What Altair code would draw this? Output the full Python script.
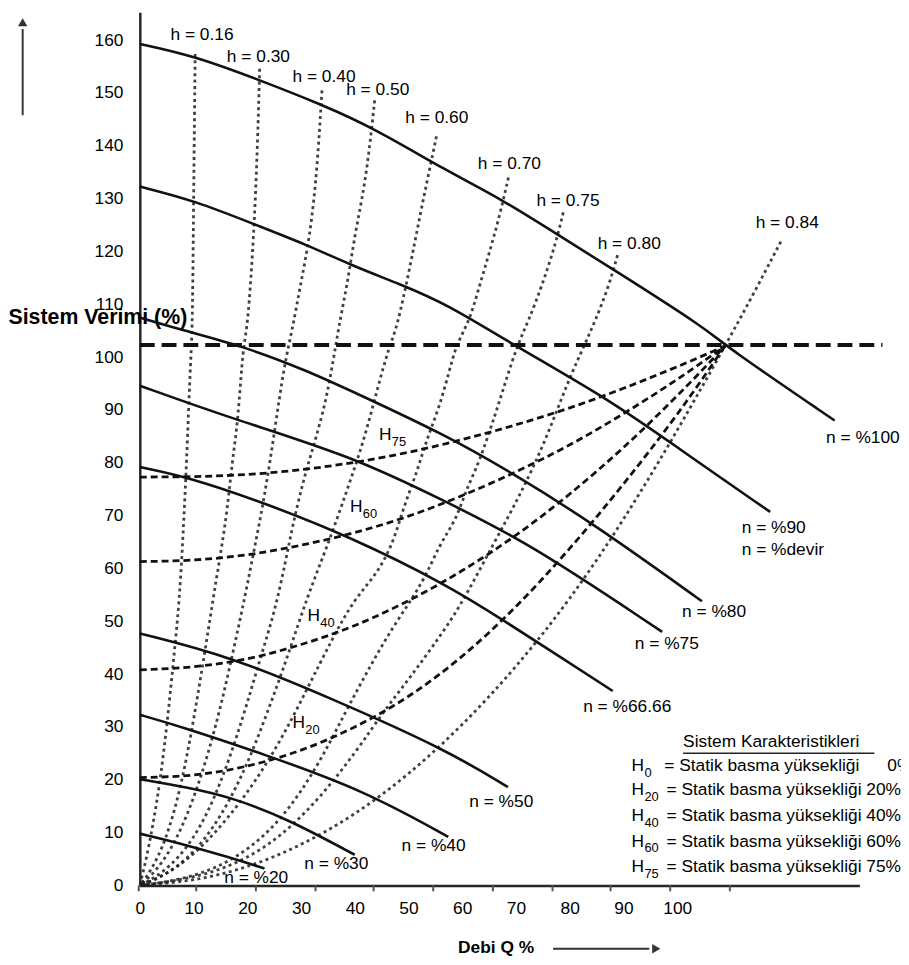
import altair as alt
import pandas as pd

FONT = "Liberation Sans"

# ---------------- axis labels ----------------
x_tick_labels = [0, 10, 20, 30, 40, 50, 60, 70, 80, 90, 100]
y_tick_labels = [0, 10, 20, 30, 40, 50, 60, 70, 80, 90, 100, 110, 120, 130, 140, 150, 160]
# small tick marks drawn on the flow axis
x_tick_marks = [-0.2, 10.5, 21.6, 32.7, 43.5, 54.6, 65.7, 76.8, 87.6, 98.7, 109.8]

# ---------------- pump curves (n = speed) ----------------
n100_q = [0, 10.3, 22.9, 33.4, 43.7, 57.0, 67.5, 77.9, 88.9, 105.5, 108.7, 129.3]
n100_h = [159.3, 157.0, 152.2, 148.0, 143.3, 135.3, 129.8, 123.1, 116.1, 105.3, 102.3, 88.0]
n90_q = [0, 10.3, 21.4, 31.2, 38.9, 48.7, 57.0, 69.4, 87.8, 100.0, 117.3]
n90_h = [132.3, 129.6, 125.1, 121.2, 117.6, 113.7, 110.1, 102.4, 91.7, 82.9, 70.7]
n80_q = [0, 7.2, 19.2, 31.2, 40.4, 57.0, 69.4, 84.1, 104.6]
n80_h = [107.5, 105.3, 102.1, 97.4, 93.1, 85.2, 78.0, 68.7, 53.8]
n75_q = [0, 17.0, 39.9, 57.0, 72.3, 97.2]
n75_h = [94.6, 88.4, 81.1, 72.6, 64.9, 48.0]
n66_q = [0, 9.0, 23.2, 39.1, 57.0, 68.1, 78.6, 88.0]
n66_h = [79.2, 77.3, 72.4, 66.0, 57.0, 49.9, 43.0, 36.8]
n50_q = [0, 17.0, 35.4, 57.0, 68.5]
n50_h = [47.7, 43.3, 35.5, 25.7, 18.6]
n40_q = [0, 7.2, 23.2, 41.7, 57.4]
n40_h = [32.3, 30.2, 24.8, 18.0, 9.2]
n30_q = [0, 8.7, 17.0, 27.5, 40.0]
n30_h = [20.1, 18.6, 16.7, 12.6, 5.8]
n20_q = [0, 8.5, 16.4, 23.2]
n20_h = [9.8, 7.7, 5.4, 3.2]

# ---------------- system characteristics (dashed) ----------------
sys_q = [0, 10, 20, 30, 40, 50, 60, 70, 80, 90, 100, 108.9]
H75_h = [77.3, 77.4, 77.8, 78.7, 80.1, 82.0, 84.4, 87.2, 90.4, 94.1, 98.2, 102.1]
H60_h = [61.3, 61.6, 62.6, 64.4, 66.8, 69.9, 73.8, 78.3, 83.4, 89.3, 95.8, 102.1]
H40_h = [40.8, 41.4, 42.9, 45.6, 49.2, 53.9, 59.6, 66.3, 74.1, 82.9, 92.7, 102.1]
H20_h = [20.4, 20.9, 22.6, 25.6, 30.0, 35.8, 43.4, 52.8, 63.8, 76.0, 89.2, 102.1]

# ---------------- efficiency curves (dotted) ----------------
h16_q = [10.3, 10.0, 9.8, 9.4, 8.7, 8.1, 7.4, 6.3, 5.2, 3.9, 2.4, 1.1, 0]
h16_h = [157.4, 129.3, 105.3, 98.7, 79.9, 67.4, 54.2, 42.9, 31.7, 20.5, 11.1, 4.5, 0]
h30_q = [22.3, 21.6, 20.1, 19.2, 18.3, 17.2, 16.1, 14.2, 12.2, 10.1, 7.7, 4.8, 2.0, 0]
h30_h = [154.6, 129.3, 105.3, 102.4, 88.0, 80.5, 69.2, 57.9, 44.8, 31.7, 18.6, 8.3, 2.6, 0]
h40_q = [33.9, 33.0, 31.7, 29.9, 28.4, 26.9, 25.1, 23.2, 21.4, 19.6, 17.3, 14.6, 10.9, 6.8, 3.0, 0]
h40_h = [150.5, 135.5, 123.1, 113.7, 105.3, 98.7, 86.1, 73.5, 64.2, 54.8, 43.9, 31.7, 18.6, 8.3, 2.6, 0]
h50_q = [43.7, 42.8, 41.7, 40.0, 38.6, 36.9, 34.9, 32.1, 30.3, 28.4, 27.1, 25.1, 22.5, 19.2, 14.9, 10.0, 4.4, 0]
h50_h = [148.6, 140.0, 131.7, 123.1, 113.7, 105.3, 92.3, 82.4, 76.2, 67.9, 61.2, 51.8, 43.3, 31.7, 18.6, 8.3, 2.3, 0]
h60_q = [55.2, 53.9, 52.0, 50.2, 47.8, 46.5, 44.1, 41.7, 38.6, 34.9, 31.2, 27.5, 23.4, 18.3, 11.8, 5.4, 0]
h60_h = [141.8, 135.5, 126.1, 116.7, 105.3, 102.4, 93.6, 84.2, 74.9, 64.2, 54.8, 43.3, 31.7, 18.6, 7.7, 2.1, 0]
h70_q = [68.6, 66.8, 64.9, 62.9, 61.3, 58.9, 57.6, 55.7, 53.3, 51.5, 49.1, 47.2, 44.1, 39.9, 35.8, 31.2, 25.6, 18.3, 10.0, 3.5, 0]
h70_h = [134.0, 126.1, 119.3, 112.4, 106.8, 102.4, 97.4, 90.4, 84.2, 78.0, 71.7, 64.9, 58.9, 54.2, 46.7, 37.3, 26.1, 14.8, 5.4, 1.3, 0]
h75_q = [78.8, 77.3, 74.9, 72.3, 70.3, 68.1, 66.2, 63.1, 60.7, 58.9, 55.7, 52.8, 47.2, 42.3, 38.0, 33.0, 25.6, 16.4, 7.2, 0]
h75_h = [127.4, 121.2, 113.7, 106.8, 102.4, 95.5, 89.3, 79.9, 74.9, 69.2, 64.5, 57.4, 49.2, 40.5, 32.3, 22.3, 11.1, 3.9, 0.9, 0]
h80_q = [88.9, 87.1, 84.7, 82.8, 79.7, 75.5, 70.8, 65.7, 59.4, 54.6, 50.2, 45.4, 40.4, 33.0, 23.8, 12.7, 0]
h80_h = [119.3, 112.9, 106.8, 102.4, 95.5, 84.2, 73.9, 64.5, 52.3, 45.4, 39.2, 33.0, 25.5, 15.8, 6.9, 1.7, 0]
# h = 0.84 line (coincides with H0 system curve through the origin)
h84_q = [0, 10, 20, 30, 40, 50, 60, 70, 80, 90, 100, 108.9, 113.7, 119.4]
h84_h = [0, 0.8, 3.3, 7.5, 13.3, 20.9, 30.2, 41.2, 54.0, 69.0, 86.0, 102.1, 111.0, 122.1]

# 100 % reference line
ref_level = [102.3]
ref_span = [0, 138.2]

# ---------------- labels ----------------
n_text = ["n = %100", "n = %90", "n = %devir", "n = %80", "n = %75", "n = %66.66",
          "n = %50", "n = %40", "n = %30", "n = %20"]
n_text_q = [127.7, 112.0, 112.0, 100.9, 92.1, 82.5, 61.3, 48.7, 30.6, 15.7]
n_text_h = [84.6, 67.7, 63.4, 51.8, 45.6, 33.8, 15.8, 7.5, 4.1, 1.3]

h_text = ["h = 0.16", "h = 0.30", "h = 0.40", "h = 0.50", "h = 0.60", "h = 0.70",
          "h = 0.75", "h = 0.80", "h = 0.84"]
h_text_q = [5.7, 16.2, 28.4, 38.4, 49.4, 62.9, 73.8, 85.2, 114.6]
h_text_h = [161.0, 156.8, 153.1, 150.5, 145.2, 136.6, 129.5, 121.4, 125.3]

H_sub = ["75", "60", "40", "20", "0", "20", "40", "60", "75"]
H_q = [44.5, 39.1, 31.2, 28.4, 91.5, 91.5, 91.5, 91.5, 91.5]
H_h = [85.2, 71.7, 51.0, 30.8, 22.5, 18.0, 13.1, 8.3, 3.4]

legend_title = ["Sistem Karakteristikleri"]
legend_title_q = [101.1]
legend_title_h = [27.2]
legend_line_q = [101.1, 136.7]
legend_line_h = [25.0]
legend_rows = ["= Statik basma yüksekliği", "= Statik basma yüksekliği 20%",
               "= Statik basma yüksekliği 40%", "= Statik basma yüksekliği 60%",
               "= Statik basma yüksekliği 75%", "0%"]
legend_rows_q = [97.6, 98.0, 98.0, 98.0, 98.0, 139.1]
legend_rows_h = [22.5, 18.0, 13.1, 8.3, 3.4, 22.5]

# axis arrows (outside the plot area)
yarrow_q = [-21.8]
yarrow_h = [145.8, 162.1]
yarrow_head_h = [163.4]
xarrow_q = [76.9, 94.8]
xarrow_h = [-12.0]
xarrow_head_q = [96.1]


# ---------------- build tables ----------------
def frame(name, q, h):
    return pd.DataFrame({"curve": name, "q": q, "h": h, "i": list(range(len(q)))})


pump_df = pd.concat([
    frame("n100", n100_q, n100_h), frame("n90", n90_q, n90_h), frame("n80", n80_q, n80_h),
    frame("n75", n75_q, n75_h), frame("n66", n66_q, n66_h), frame("n50", n50_q, n50_h),
    frame("n40", n40_q, n40_h), frame("n30", n30_q, n30_h), frame("n20", n20_q, n20_h),
])
sys_df = pd.concat([
    frame("H75", sys_q, H75_h), frame("H60", sys_q, H60_h),
    frame("H40", sys_q, H40_h), frame("H20", sys_q, H20_h),
])
eff_df = pd.concat([
    frame("h16", h16_q, h16_h), frame("h30", h30_q, h30_h), frame("h40", h40_q, h40_h),
    frame("h50", h50_q, h50_h), frame("h60", h60_q, h60_h), frame("h70", h70_q, h70_h),
    frame("h75", h75_q, h75_h), frame("h80", h80_q, h80_h), frame("h84", h84_q, h84_h),
])

xs = alt.Scale(domain=[0, 133.9], nice=False, zero=False)
ys = alt.Scale(domain=[0, 165.3], nice=False, zero=False)

x_axis = alt.Axis(values=x_tick_labels, ticks=False, grid=False, labelFlush=False,
                  labelOverlap=False, labelFont=FONT, labelFontSize=17.5, labelColor="black",
                  labelPadding=14, domainColor="#262626", domainWidth=2.5,
                  title="Debi Q %", titleFont=FONT, titleFontSize=17.5, titleFontWeight="bold",
                  titleColor="black", titleX=359, titleY=63, titleAlign="center",
                  titleBaseline="middle")
y_axis = alt.Axis(values=y_tick_labels, ticks=False, grid=False, labelFlush=False,
                  labelOverlap=False, labelFont=FONT, labelFontSize=17.5, labelColor="black",
                  labelPadding=17, domainColor="#262626", domainWidth=2.5,
                  title="Sistem Verimi (%)", titleFont=FONT, titleFontSize=21.5,
                  titleFontWeight="bold", titleColor="black", titleAngle=0, titleAlign="left",
                  titleBaseline="middle", titleX=-133, titleY=308)

X = alt.X("q:Q", scale=xs, axis=x_axis)
Y = alt.Y("h:Q", scale=ys, axis=y_axis)

eff = alt.Chart(eff_df).mark_line(color="#1e1e1e", strokeWidth=2.8, strokeDash=[3, 3.5],
                                  opacity=0.85, interpolate="basis").encode(
    x=X, y=Y, detail="curve:N", order="i:Q")
system = alt.Chart(sys_df).mark_line(color="#111111", strokeWidth=2.8, strokeDash=[7, 4],
                                     interpolate="monotone").encode(
    x=X, y=Y, detail="curve:N", order="i:Q")
pump = alt.Chart(pump_df).mark_line(color="#111111", strokeWidth=2.6,
                                    interpolate="basis").encode(
    x=X, y=Y, detail="curve:N", order="i:Q")

ref_df = pd.DataFrame({"q": [ref_span[0]], "q2": [ref_span[1]], "h": ref_level})
ref = alt.Chart(ref_df).mark_rule(color="#111111", strokeWidth=4, strokeDash=[15, 7]).encode(
    x=X, x2="q2:Q", y=Y)

ticks_df = pd.DataFrame({"q": x_tick_marks, "h": [0] * len(x_tick_marks)})
ticks = alt.Chart(ticks_df).mark_rule(color="#555555", strokeWidth=2).encode(
    x=X, y=Y, y2=alt.value(887))

txt = dict(align="left", baseline="middle", font=FONT, fontSize=17.5, color="black")

n_df = pd.DataFrame({"q": n_text_q, "h": n_text_h, "t": n_text})
n_lab = alt.Chart(n_df).mark_text(**txt).encode(x=X, y=Y, text="t:N")

h_df = pd.DataFrame({"q": h_text_q, "h": h_text_h, "t": h_text})
h_lab = alt.Chart(h_df).mark_text(**txt).encode(x=X, y=Y, text="t:N")

Hd = pd.DataFrame({"q": H_q, "h": H_h, "t": ["H"] * len(H_q), "s": H_sub})
H_lab = alt.Chart(Hd).mark_text(**txt).encode(x=X, y=Y, text="t:N")
H_subs = alt.Chart(Hd).mark_text(align="left", baseline="middle", font=FONT, fontSize=13,
                                 color="black", dx=13, dy=7).encode(x=X, y=Y, text="s:N")

lt_df = pd.DataFrame({"q": legend_title_q, "h": legend_title_h, "t": legend_title})
lt = alt.Chart(lt_df).mark_text(**txt).encode(x=X, y=Y, text="t:N")
ll_df = pd.DataFrame({"q": [legend_line_q[0]], "q2": [legend_line_q[1]], "h": legend_line_h})
ll = alt.Chart(ll_df).mark_rule(color="#222222", strokeWidth=1.5).encode(x=X, x2="q2:Q", y=Y)
lr_df = pd.DataFrame({"q": legend_rows_q, "h": legend_rows_h, "t": legend_rows})
lr = alt.Chart(lr_df).mark_text(**txt).encode(x=X, y=Y, text="t:N")

ya_df = pd.DataFrame({"q": yarrow_q, "h": [yarrow_h[0]], "h2": [yarrow_h[1]]})
ya = alt.Chart(ya_df).mark_rule(color="#333333", strokeWidth=2).encode(x=X, y=Y, y2="h2:Q")
yah_df = pd.DataFrame({"q": yarrow_q, "h": yarrow_head_h})
yah = alt.Chart(yah_df).mark_point(shape="triangle-up", filled=True, size=90, color="#333333",
                                   opacity=1).encode(x=X, y=Y)
xa_df = pd.DataFrame({"q": [xarrow_q[0]], "q2": [xarrow_q[1]], "h": xarrow_h})
xa = alt.Chart(xa_df).mark_rule(color="#333333", strokeWidth=2).encode(x=X, x2="q2:Q", y=Y)
xah_df = pd.DataFrame({"q": xarrow_head_q, "h": xarrow_h})
xah = alt.Chart(xah_df).mark_point(shape="triangle-right", filled=True, size=90,
                                   color="#333333", opacity=1).encode(x=X, y=Y)

chart = alt.layer(
    eff, system, ref, pump, ticks, n_lab, h_lab, H_lab, H_subs, lt, ll, lr, ya, yah, xa, xah
).properties(
    width=726, height=881,
    padding={"left": 133, "top": 0, "right": 42, "bottom": 68},
    autosize=alt.AutoSizeParams(type="none"),
    background="white",
).configure(font=FONT).configure_view(strokeWidth=0)

chart.save("out.html", embed_options={"renderer": "svg", "actions": False})
